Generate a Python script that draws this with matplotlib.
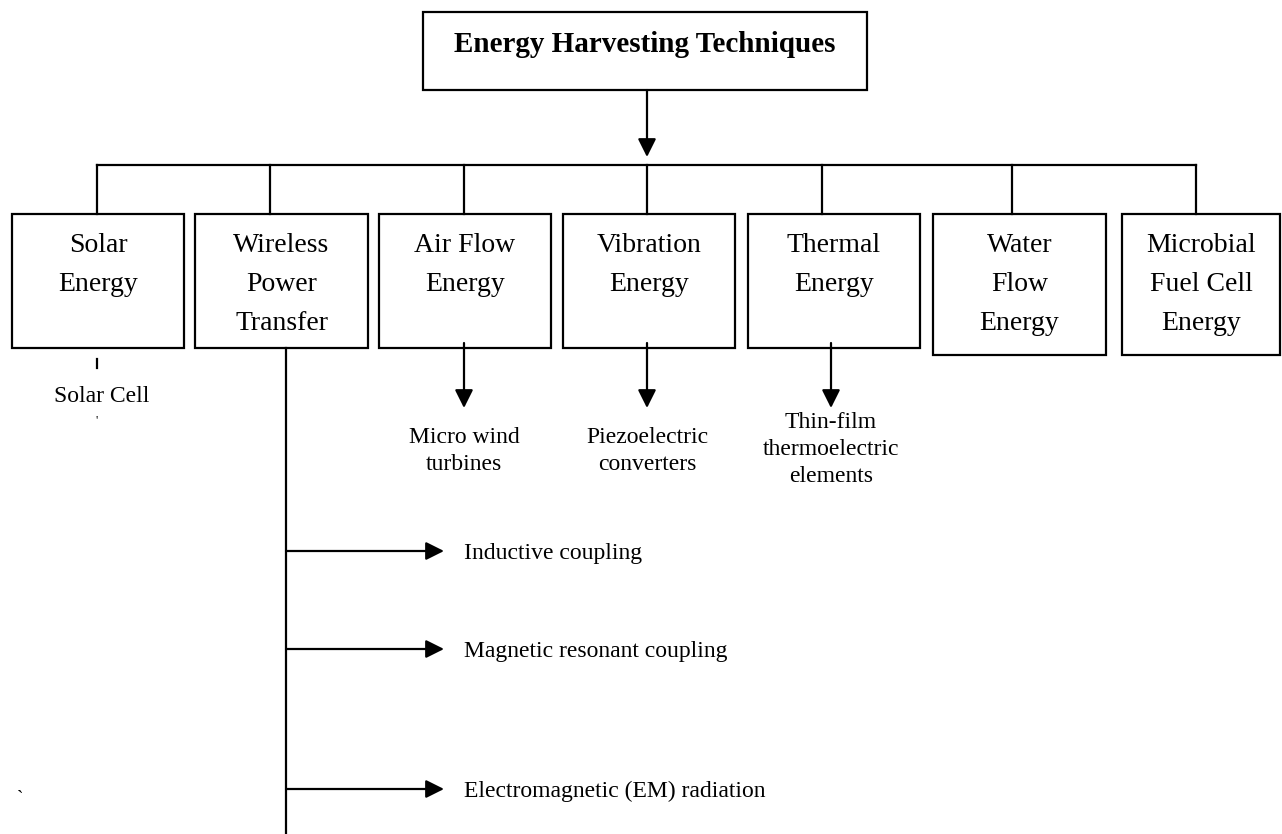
import matplotlib
matplotlib.use("Agg")
import matplotlib.pyplot as plt
from matplotlib.patches import Rectangle, ArrowStyle

# ---- content ----
title = "Energy Harvesting Techniques"
categories = [
    ["Solar", "Energy"],
    ["Wireless", "Power", "Transfer"],
    ["Air Flow", "Energy"],
    ["Vibration", "Energy"],
    ["Thermal", "Energy"],
    ["Water", "Flow", "Energy"],
    ["Microbial", "Fuel Cell", "Energy"],
]
sub_labels = {
    0: ["Solar Cell"],
    2: ["Micro wind", "turbines"],
    3: ["Piezoelectric", "converters"],
    4: ["Thin-film", "thermoelectric", "elements"],
}
wpt_methods = ["Inductive coupling", "Magnetic resonant coupling",
               "Electromagnetic (EM) radiation"]

# ---- layout (pixel coordinates) ----
W, H = 1282, 834
fig = plt.figure(figsize=(W / 100, H / 100), dpi=100)
ax = fig.add_axes([0, 0, 1, 1])
ax.set_xlim(0, W)
ax.set_ylim(H, 0)
ax.axis("off")

FONT = "Liberation Serif"
LW = 1.6
head = ArrowStyle("-|>", head_length=1.1, head_width=0.55)


def arrow(x0, y0, x1, y1):
    ax.annotate("", xy=(x1, y1), xytext=(x0, y0),
                arrowprops=dict(arrowstyle=head, mutation_scale=10, lw=LW,
                                color="black", shrinkA=0, shrinkB=0))


# title box
ax.add_patch(Rectangle((423, 12), 444, 78, fill=False, lw=LW, ec="black"))
ax.text(645, 52, title, ha="center", va="baseline", fontsize=21,
        fontweight="bold", family=FONT)
arrow(647, 90, 647, 157)

# horizontal bus
bus_y = 165
box_x = [(12, 184), (195, 368), (379, 551), (563, 735), (748, 920),
         (933, 1106), (1122, 1280)]
box_bottom = [348, 348, 348, 348, 348, 355, 355]
conn_x = [97, 270, 464, 647, 822, 1012, 1196]
box_top = 214
ax.plot([conn_x[0], conn_x[-1]], [bus_y, bus_y], color="black", lw=LW,
        solid_capstyle="projecting")
for i, (lines, (xl, xr)) in enumerate(zip(categories, box_x)):
    ax.plot([conn_x[i], conn_x[i]], [bus_y, box_top], color="black", lw=LW)
    ax.add_patch(Rectangle((xl, box_top), xr - xl, box_bottom[i] - box_top,
                           fill=False, lw=LW, ec="black"))
    cx = (xl + xr) / 2
    for j, s in enumerate(lines):
        ax.text(cx, 252 + 39 * j, s, ha="center", va="baseline",
                fontsize=20, family=FONT)

# solar cell
ax.plot([97, 97], [359, 368], color="black", lw=LW)
ax.text(102, 402, sub_labels[0][0], ha="center", va="baseline",
        fontsize=17, family=FONT)
ax.text(97, 424, "'", ha="center", va="baseline", fontsize=9, family=FONT)

# arrows to sub-technologies
sub_arrow_x = {2: 464, 3: 647, 4: 831}
sub_base = {2: 443, 3: 443, 4: 428}
sub_cx = {2: 464, 3: 647, 4: 831}
for k, x in sub_arrow_x.items():
    arrow(x, 343, x, 408)
    for j, s in enumerate(sub_labels[k]):
        ax.text(sub_cx[k], sub_base[k] + 27 * j, s, ha="center",
                va="baseline", fontsize=17, family=FONT)

# wireless power transfer branch
ax.plot([286, 286], [348, H + 5], color="black", lw=LW)
for y, s in zip([551, 649, 789], wpt_methods):
    arrow(286, y, 444, y)
    ax.text(464, y + 8, s, ha="left", va="baseline", fontsize=17,
            family=FONT)

ax.text(20, 803, "`", ha="center", va="baseline", fontsize=14, family=FONT)

fig.savefig("out.png", dpi=100)
